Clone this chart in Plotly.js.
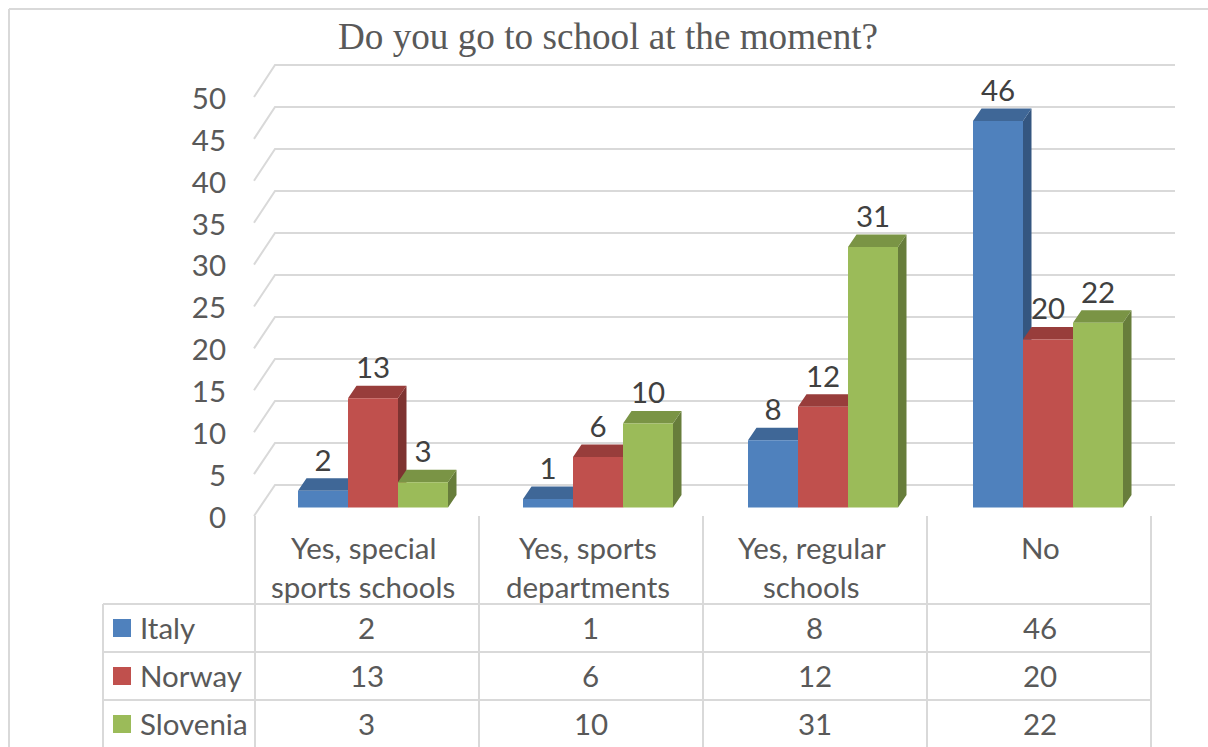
<!DOCTYPE html>
<html>
<head>
<meta charset="utf-8">
<script src="https://cdn.plot.ly/plotly-3.0.1.min.js"></script>
<style>html,body{margin:0;padding:0;background:#fff;overflow:hidden}#chart{width:1208px;height:747px}</style>
</head>
<body>
<div id="chart"></div>
<script>
// ---- data ----
const chartTitle = "Do you go to school at the moment?";
const categories = ["Yes, special<br>sports schools", "Yes, sports<br>departments", "Yes, regular<br>schools", "No"];
const seriesNames = ["Italy", "Norway", "Slovenia"];
const italy = [2, 1, 8, 46];
const norway = [13, 6, 12, 20];
const slovenia = [3, 10, 31, 22];
const yTicks = [0, 5, 10, 15, 20, 25, 30, 35, 40, 45, 50];

// ---- styles ----
const seriesValues = [italy, norway, slovenia];
const frontColors = ["#4F81BD", "#C0504D", "#9BBB59"];
const topColors = ["#3F6797", "#983D3B", "#7A9445"];
const sideColors = ["#345680", "#7E3331", "#677D3B"];
const gridColor = "#D9D9D9";
const textColor = "#595959";
const labelColor = "#404040";
const sansFont = "Lato, 'Open Sans', sans-serif";
const fontSize = 29.5;
const W = 1208, H = 747;

// ---- scales: one value unit = 8.4px, one category = 225px ----
const pxPerUnit = 8.4, pxPerCat = 225, x0px = 373, y0px = 507.5;
const fx = px => (px - x0px) / pxPerCat;
const fy = py => (y0px - py) / pxPerUnit;
const barW = 50 / pxPerCat;
const depthX = 8.5 / pxPerCat, depthY = 12.5 / pxPerUnit;
const px = x => x / W, py = y => 1 - y / H;

const traces = [];

// back wall + floor gridlines
const gx = [], gy = [];
yTicks.forEach(v => {
  gx.push(fx(254), fx(275), fx(1175), null);
  gy.push(fy(516 - 8.38 * v), fy(485 - 8.4 * v), fy(485 - 8.4 * v), null);
});
traces.push({type: "scatter", mode: "lines", x: gx, y: gy, line: {color: gridColor, width: 2},
  hoverinfo: "skip", showlegend: false, xaxis: "x", yaxis: "y"});

// top and side faces, back to front
seriesValues.forEach((vals, s) => {
  const offset = -1.5 * barW + s * barW;
  const tx = [], ty = [], sx = [], sy = [];
  vals.forEach((v, i) => {
    const l = i + offset, r = l + barW;
    sx.push(r, r + depthX, r + depthX, r, r, null);
    sy.push(0, depthY, v + depthY, v, 0, null);
    tx.push(l, l + depthX, r + depthX, r, l, null);
    ty.push(v, v + depthY, v + depthY, v, v, null);
  });
  traces.push({type: "scatter", mode: "lines", x: sx, y: sy, fill: "toself", fillcolor: sideColors[s],
    line: {width: 0, color: sideColors[s]}, hoverinfo: "skip", showlegend: false, xaxis: "x", yaxis: "y"});
  traces.push({type: "scatter", mode: "lines", x: tx, y: ty, fill: "toself", fillcolor: topColors[s],
    line: {width: 0, color: topColors[s]}, hoverinfo: "skip", showlegend: false, xaxis: "x", yaxis: "y"});
});

// front faces, real bars on an overlaid subplot
seriesValues.forEach((vals, s) => {
  traces.push({type: "bar", name: seriesNames[s], x: categories.map((c, i) => i), y: vals,
    width: barW, offset: -1.5 * barW + s * barW, marker: {color: frontColors[s]},
    showlegend: false, xaxis: "x2", yaxis: "y2"});
});

// data labels
seriesValues.forEach((vals, s) => {
  traces.push({type: "scatter", mode: "text", x: vals.map((v, i) => i + (s - 1) * barW),
    y: vals.map(v => v + depthY + 15 / pxPerUnit), text: vals.map(String), textposition: "middle center",
    textfont: {family: sansFont, size: fontSize, color: labelColor}, cliponaxis: false,
    hoverinfo: "skip", showlegend: false, xaxis: "x2", yaxis: "y2"});
});

// data-table legend keys
const rowCenters = [628, 676, 724];
seriesNames.forEach((n, s) => {
  traces.push({type: "scatter", mode: "markers", x: [fx(122)], y: [fy(rowCenters[s])],
    marker: {symbol: "square", size: 18, color: frontColors[s]}, hoverinfo: "skip", showlegend: false,
    xaxis: "x2", yaxis: "y2"});
});

// ---- table and frame lines ----
const colEdges = [255, 479, 703, 927, 1151];
const ln = (x1, y1, x2, y2) => ({type: "line", xref: "paper", yref: "paper", x0: px(x1), y0: py(y1), x1: px(x2), y1: py(y2),
  line: {color: gridColor, width: 2}, layer: "below"});
const shapes = [ln(9, 9, 1208, 9), ln(9, 9, 9, 747), ln(103, 604, 1151, 604), ln(103, 652, 1151, 652),
  ln(103, 700, 1151, 700), ln(103, 604, 103, 747)];
colEdges.forEach(x => shapes.push(ln(x, 516, x, 747)));

// ---- table and category text ----
const annotations = [];
const note = (text, x, y, anchor, color) => annotations.push({text, xref: "paper", yref: "paper", x: px(x), y: py(y),
  xanchor: anchor || "center", yanchor: "middle", showarrow: false,
  font: {family: sansFont, size: fontSize, color: color || textColor}});
const catCenters = [363, 587.5, 811.5, 1040];
const cellCenters = [366.5, 590.5, 814.5, 1039.5];
categories.forEach((c, i) => c.split("<br>").forEach((line, k) => note(line, catCenters[i], 547 + 39 * k)));
seriesNames.forEach((n, s) => {
  note(n, 138, rowCenters[s] - 1, "left");
  seriesValues[s].forEach((v, i) => note(String(v), cellCenters[i], rowCenters[s] - 1));
});

const xRange = [fx(0), fx(W)];
const yRange = [fy(H), fy(0)];
const layout = {
  width: W, height: H, margin: {l: 0, r: 0, t: 0, b: 0}, paper_bgcolor: "#fff", plot_bgcolor: "rgba(0,0,0,0)",
  showlegend: false, barmode: "overlay", shapes, annotations,
  title: {text: chartTitle, x: 608 / W, xanchor: "center", xref: "paper", y: 1 - 36 / H, yanchor: "middle",
    font: {family: "'Liberation Serif', serif", size: 37.2, color: textColor}},
  xaxis: {range: xRange, visible: false, fixedrange: true},
  yaxis: {range: yRange, visible: false, fixedrange: true},
  xaxis2: {range: xRange, visible: false, overlaying: "x", fixedrange: true},
  yaxis2: {range: yRange, visible: false, overlaying: "y", fixedrange: true},
  yaxis3: {range: [(517.5 - H) / 8.38, 517.5 / 8.38], overlaying: "y", anchor: "free", position: 255 / W, side: "left",
    tickmode: "array", tickvals: yTicks, ticktext: yTicks.map(String), showgrid: false, zeroline: false,
    showline: false, ticks: "", ticklabelstandoff: 29, fixedrange: true,
    tickfont: {family: sansFont, size: fontSize, color: textColor}}
};
// carrier trace so the tick axis is drawn
traces.push({type: "scatter", mode: "markers", x: [fx(255)], y: [0], marker: {size: 1, opacity: 0},
  hoverinfo: "skip", showlegend: false, xaxis: "x", yaxis: "y3"});

Plotly.newPlot("chart", traces, layout, {displayModeBar: false, staticPlot: true});
</script>
</body>
</html>
